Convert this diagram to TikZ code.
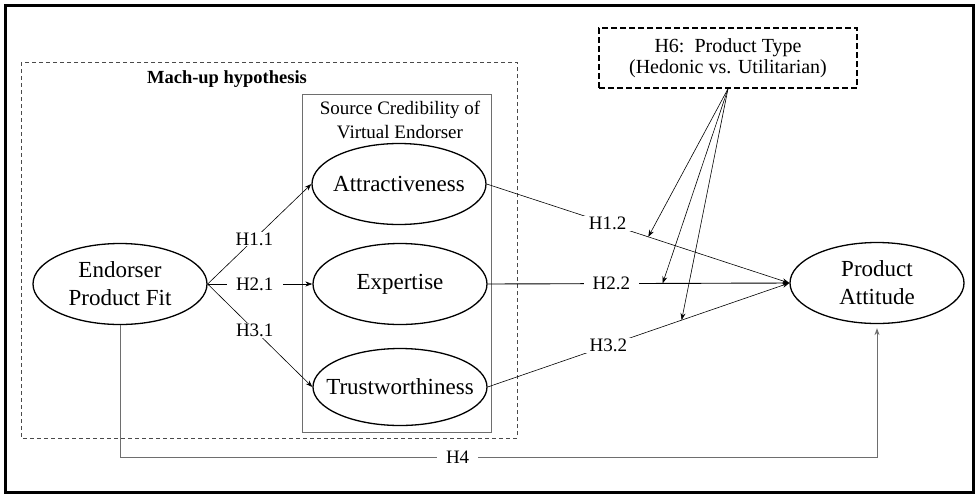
\documentclass[tikz,border=0pt]{standalone}
\usepackage{fontspec}
\setmainfont{Liberation Serif}
\usetikzlibrary{positioning, arrows.meta, shapes.geometric, calc}
\definecolor{color_text}{HTML}{000000}
\definecolor{color_mute}{HTML}{6E6E6E}
\definecolor{color_dash}{HTML}{4A4A4A}
\tikzset{
  frame_box/.style={draw=color_text, line width=3pt},
  matchup_box/.style={draw=color_dash, line width=0.8pt, dash pattern=on 4pt off 3pt},
  source_box/.style={draw=color_mute, line width=0.9pt},
  moderator_box/.style={draw=color_text, line width=1.5pt, dash pattern=on 6pt off 3pt, minimum width=258pt, minimum height=60pt, align=center, font=\fontsize{20}{21}\selectfont},
  construct_oval/.style={ellipse, draw=color_text, line width=1.3pt, minimum width=174pt, minimum height=81pt, inner sep=0pt},
  construct_text/.style={font=\fontsize{23}{28}\selectfont, align=center, text=color_text},
  figure_label/.style={font=\fontsize{19}{24}\selectfont, align=center, text=color_text},
  hyp_label/.style={fill=white, font=\fontsize{19}{22}\selectfont, inner xsep=9pt, inner ysep=1pt, text=color_text},
  path_arrow/.style={-{Stealth[length=7pt, width=5pt]}, draw=color_text, line width=0.6pt},
  direct_arrow/.style={-{Stealth[length=7pt, width=5pt]}, draw=color_mute, line width=0.9pt},
}

\begin{document}
\begin{tikzpicture}[x=1pt, y=-1pt]
    \useasboundingbox (0,0) rectangle (980,499);
    % Outer frame and groupings
    \draw[frame_box] (5,5) rectangle (973,492);
    \draw[matchup_box] (21,62) rectangle (517,438);
    \draw[source_box] (302,94) rectangle (491,432);
    \node[figure_label, font=\fontsize{18.5}{22}\selectfont\bfseries] (matchup) at (227,79) {Mach-up hypothesis};
    \node[figure_label] (source) at (400,120) {Source Credibility of\\Virtual Endorser};
    % Constructs
    \node[construct_oval, label={[construct_text]center:Endorser\\Product Fit}] (fit) at (120,284) {};
    \node[construct_oval, label={[construct_text]center:Attractiveness}] (attract) at (399,184) {};
    \node[construct_oval, label={[construct_text]center:Expertise}] (expert) at (400,284) {};
    \node[construct_oval, minimum height=77pt, label={[construct_text]center:Trustworthiness}] (trust) at (400,387) {};
    \node[construct_oval, label={[construct_text]center:Product\\Attitude}] (attitude) at (877,283) {};
    \node[moderator_box] (type) at (728,58) {H6:\ \ Product Type\\(Hedonic vs. Utilitarian)};
    % Mediation paths
    \draw[path_arrow] (fit.east) -- node[hyp_label, pos=0.45] {H1.1} (attract.west);
    \draw[path_arrow] (fit.east) -- node[hyp_label, pos=0.45] {H2.1} (expert.west);
    \draw[path_arrow] (fit.east) -- node[hyp_label, pos=0.45] {H3.1} (trust.west);
    \draw[path_arrow] (attract.east) -- node[hyp_label, pos=0.4] {H1.2} (attitude.west);
    \draw[path_arrow, line width=0.9pt] (expert.east) -- node[hyp_label, pos=0.41] {H2.2} (attitude.west);
    \draw[path_arrow] (trust.east) -- node[hyp_label, pos=0.4] {H3.2} (attitude.west);
    % Moderation by product type
    \coordinate (mod_h1) at ($(attract.east)!0.534!(attitude.west)$);
    \coordinate (mod_h2) at ($(expert.east)!0.58!(attitude.west)$);
    \coordinate (mod_h3) at ($(trust.east)!0.643!(attitude.west)$);
    \draw[path_arrow] (type.south) -- (mod_h1);
    \draw[path_arrow] (type.south) -- (mod_h2);
    \draw[path_arrow] (type.south) -- (mod_h3);
    % Direct effect
    \coordinate (h4_level) at (0,457);
    \draw[direct_arrow, shorten >=4pt] (fit.south) -- (fit.south |- h4_level)
      -- node[hyp_label, pos=0.446] {H4} (attitude.south |- h4_level) -- (attitude.south);
\end{tikzpicture}
\end{document}
